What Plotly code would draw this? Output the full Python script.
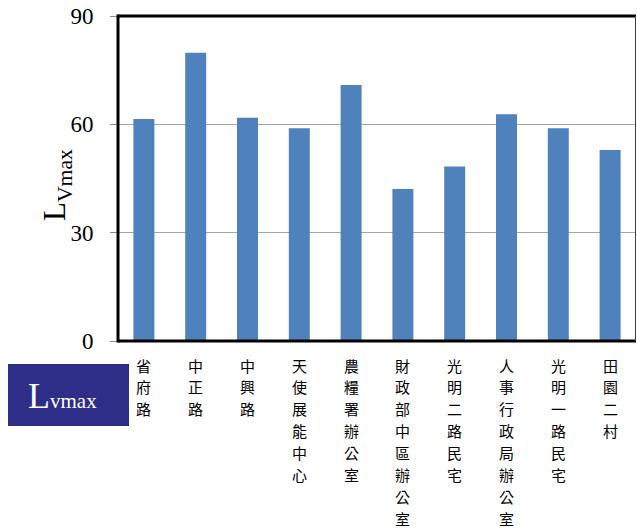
import plotly.graph_objects as go

categories = ["省府路", "中正路", "中興路", "天使展能中心", "農糧署辦公室",
              "財政部中區辦公室", "光明二路民宅", "人事行政局辦公室", "光明一路民宅", "田園二村"]
values = [61.5, 79.8, 61.8, 58.9, 70.9, 42.1, 48.3, 62.8, 58.9, 52.9]
y_ticks = [0, 30, 60, 90]

W, H = 637, 531
L, R, T, B = 118, 1, 16, 190
pw = W - L - R
ph = H - T - B

def px(p):
    return (p - L) / pw

def py(p):
    return (H - B - p) / ph

fig = go.Figure()
fig.add_trace(go.Bar(
    x=categories, y=values,
    marker=dict(color="#4F81BD", line=dict(width=0)),
    showlegend=False,
))

fig.update_layout(
    width=W, height=H,
    margin=dict(l=L, r=R, t=T, b=B, pad=0),
    paper_bgcolor="white", plot_bgcolor="white",
    bargap=0.595,
    font=dict(family="Liberation Serif", color="black"),
    xaxis=dict(
        type="category", showticklabels=False,
        ticks="", showgrid=False, showline=False, zeroline=False, automargin=False,
    ),
    yaxis=dict(
        range=[0, 90], tickmode="array", tickvals=y_ticks,
        ticks="outside", ticklen=7, tickcolor="#8C8C8C", tickwidth=1,
        showgrid=True, gridcolor="#A6A6A6", gridwidth=1,
        showline=False, zeroline=False, automargin=False,
        tickfont=dict(family="Liberation Serif", size=23, color="black"),
        ticklabelstandoff=12,
    ),
)

# vertical category labels, one character per row, placed on the category axis
row0, row_step = 365, 21.9
for cat in categories:
    for i, ch in enumerate(cat):
        fig.add_annotation(xref="x", yref="paper", x=cat, y=py(row0 + i * row_step),
                           text=ch, showarrow=False,
                           font=dict(family="Noto Sans CJK TC", size=15, color="black"),
                           xanchor="center", yanchor="middle")

# frame: thick left, bottom and top; thin right
fig.add_shape(type="line", xref="paper", yref="paper", x0=0, x1=0, y0=py(342.5), y1=py(14.5),
              line=dict(color="black", width=3))
fig.add_shape(type="line", xref="paper", yref="paper", x0=0, x1=1, y0=0, y1=0,
              line=dict(color="black", width=3))
fig.add_shape(type="line", xref="paper", yref="paper", x0=0, x1=1, y0=1, y1=1,
              line=dict(color="black", width=3))
fig.add_shape(type="line", xref="paper", yref="paper", x0=px(635.5), x1=px(635.5), y0=0, y1=1,
              line=dict(color="#404040", width=1))

# y-axis title
fig.add_annotation(xref="paper", yref="paper", x=px(57), y=py(185),
                   text="L<sub>Vmax</sub>", textangle=-90, showarrow=False,
                   font=dict(family="Liberation Serif", size=31, color="black"),
                   xanchor="center", yanchor="middle")

# label box
fig.add_shape(type="rect", xref="paper", yref="paper",
              x0=px(8), x1=px(129), y0=py(426), y1=py(364),
              fillcolor="#2E2D87", line=dict(width=0), layer="above")
fig.add_annotation(xref="paper", yref="paper", x=px(62), y=py(396),
                   text="L<span style='font-size:21px'>vmax</span>", showarrow=False,
                   font=dict(family="Liberation Serif", size=36, color="white"),
                   xanchor="center", yanchor="middle")

fig.write_html("out.html", config={"displayModeBar": False},
               post_script="document.body.style.margin='0px';")
